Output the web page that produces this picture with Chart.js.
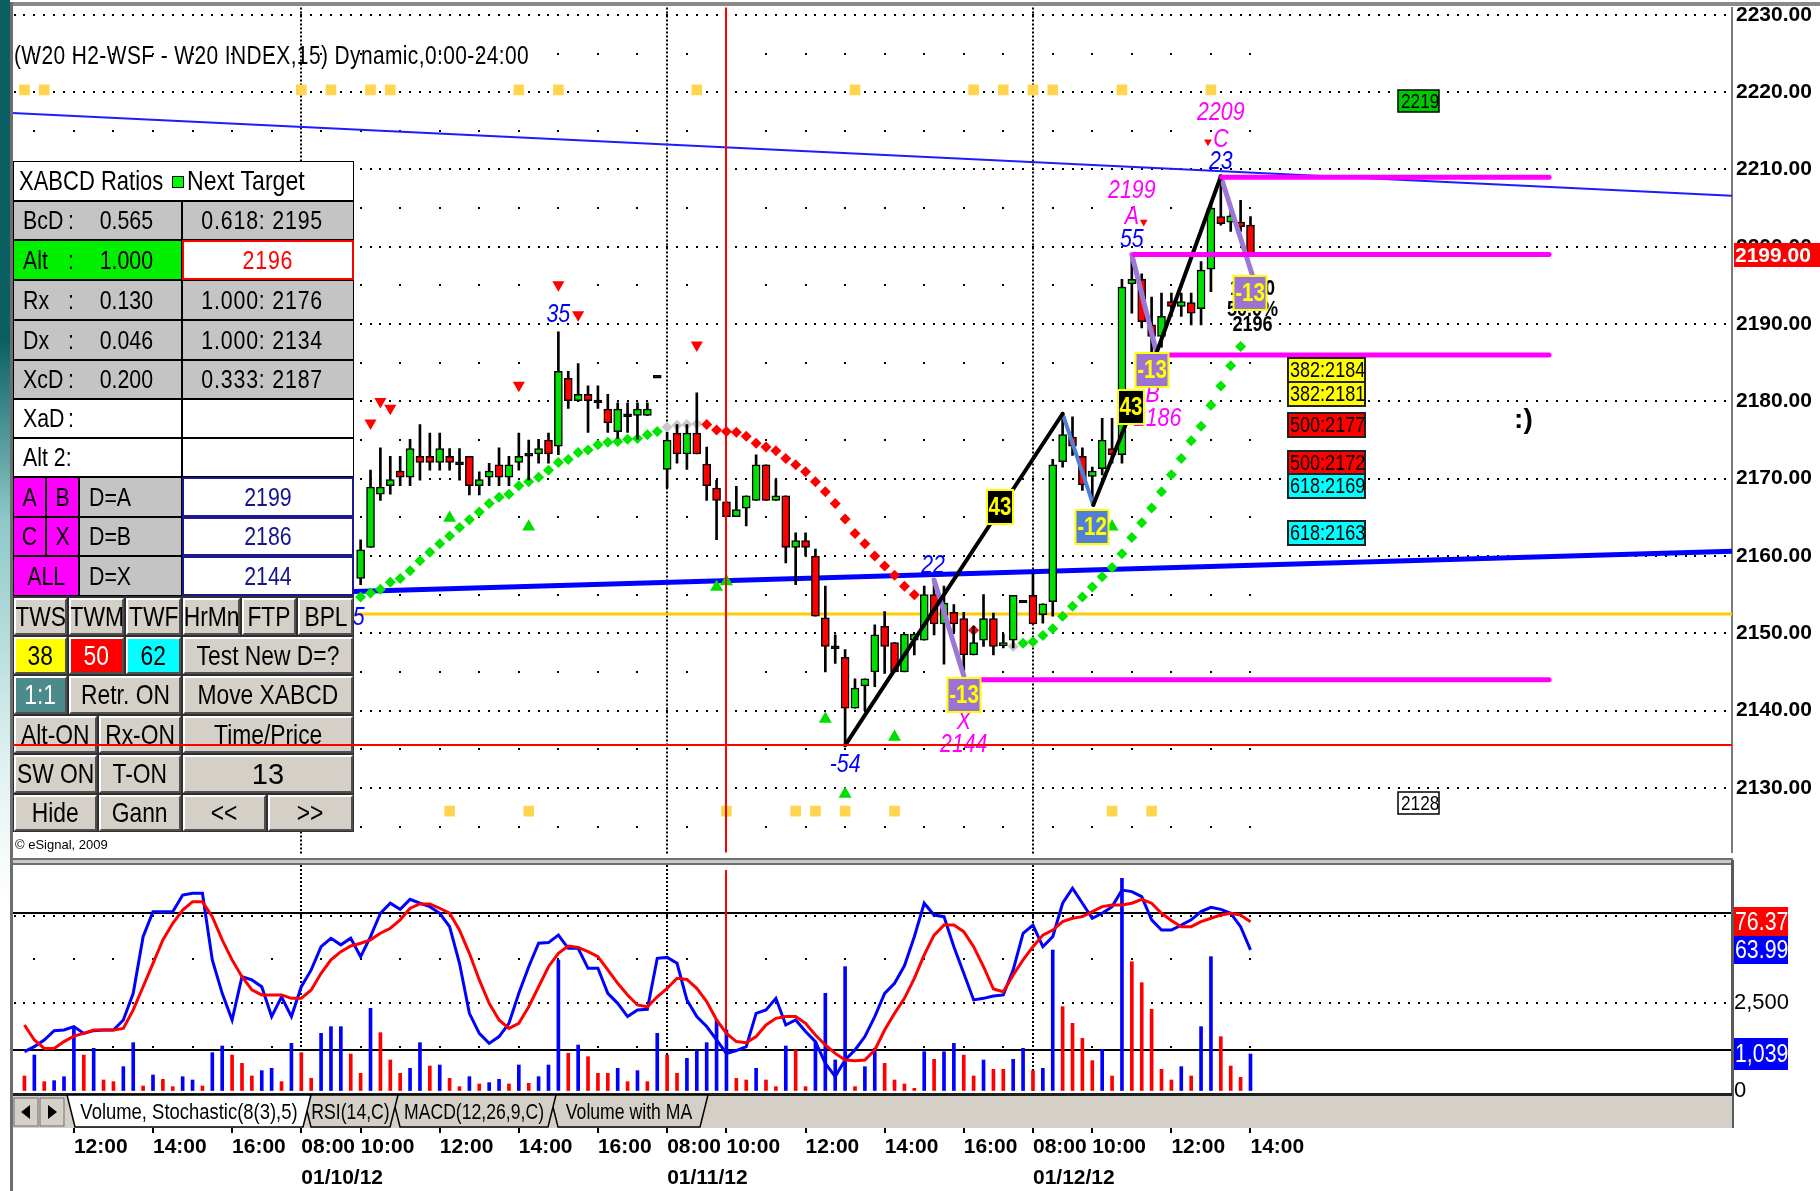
<!DOCTYPE html>
<html>
<head>
<meta charset="utf-8">
<title>W20 H2-WSF 15 min</title>
<script src="https://cdn.jsdelivr.net/npm/chart.js@4.4.1/dist/chart.umd.min.js"></script>
<style>
  html, body { margin: 0; padding: 0; background: #fff; }
  #wrap { position: relative; width: 1820px; height: 1191px; overflow: hidden; background: #fff; }
  canvas { position: absolute; left: 0; }
  #main { top: 0; }
  #lower { top: 860px; }
  .abs { position: absolute; box-sizing: border-box; }
  .nar { font-family: "Liberation Sans", Arial, sans-serif; }
  .cell { position: absolute; box-sizing: border-box; display: flex; justify-content: center; align-items: center;
          font-size: 26px; color: #000; white-space: nowrap; overflow: hidden; border: 1px solid #000; }
  .cell span { position: absolute; top: 0; transform: scaleX(0.82); transform-origin: left center; }
  .cell span.r { transform-origin: right center; }
  .n { display: inline-block; flex: none; font-style: normal; transform: scaleX(0.82); transform-origin: center; }
  .wide .n { letter-spacing: 1px; }
  .btn { background: #d4d0c8; border: 2px solid; border-color: #fff #505050 #505050 #fff; font-size: 27.5px; }
  .btn .n { transform: scaleX(0.83); }
</style>
</head>
<body>
<div id="wrap">
  <canvas id="main" width="1820" height="860"></canvas>
  <canvas id="lower" width="1820" height="331"></canvas>
  <div id="panel" class="abs" style="left:0;top:0;width:1820px;height:1191px;pointer-events:none"></div>
</div>
<script>
const SANS = '"Liberation Sans", Arial, sans-serif';
const NARROW_X = 0.82; // Liberation Sans squeezed to Arial Narrow proportions

// ---------- data (bar index: 0 = 08:30 on 01/09/12, 37 bars per session) ----------
const firstBar = 43;
const opens = [
  2157.1,2161.1,2168.0,2169.1,2171.0,2170.2,2172.9,2172.9,2172.1,2172.9,
  2172.0,2172.9,2169.1,2170.2,2171.8,2170.2,2172.1,2173.1,2173.2,2175.0,
  2174.2,2183.0,2180.1,2180.9,2180.0,2179.0,2176.1,2178.2,2178.2,2178.2,
  2183.2,2171.2,2175.9,2173.2,2175.9,2171.9,2168.8,2167.0,2165.1,2166.2,
  2167.2,2171.8,2167.2,2167.8,2161.1,2162.0,2160.0,2152.0,2148.2,2146.9,
  2140.3,2143.2,2145.0,2150.9,2148.8,2145.0,2149.1,2149.1,2155.0,2151.2,
  2152.7,2151.9,2147.2,2149.1,2151.9,2148.4,2149.1,2154.1,2154.9,2152.4,
  2154.1,2172.2,2175.4,2172.9,2170.3,2171.3,2173.9,2173.1,2195.2,2195.8,
  2189.9,2188.4,2192.9,2192.3,2192.8,2192.0,2197.1,2203.9,2203.2,2203.2,
  2202.8
];
const highs = [
  2162.1,2171.1,2174.0,2172.9,2172.9,2175.1,2177.0,2175.9,2175.9,2173.9,
  2173.9,2172.9,2170.9,2172.0,2174.0,2172.9,2175.9,2175.0,2175.1,2175.9,
  2189.0,2183.9,2184.9,2182.0,2182.0,2180.9,2179.8,2179.8,2179.8,2179.8,
  2183.2,2176.0,2177.0,2177.0,2181.1,2174.1,2169.8,2167.0,2169.0,2167.8,
  2173.1,2171.8,2169.9,2167.8,2163.0,2163.0,2160.9,2156.1,2149.8,2147.9,
  2144.1,2144.1,2151.1,2152.8,2148.8,2149.9,2149.9,2156.1,2156.9,2156.1,
  2153.7,2152.7,2150.9,2155.0,2152.6,2149.9,2154.9,2154.1,2157.8,2153.8,
  2172.5,2178.4,2178.0,2174.0,2171.5,2177.8,2177.8,2195.8,2199.0,2196.5,
  2193.5,2194.0,2194.0,2194.0,2194.0,2198.1,2205.5,2209.1,2205.5,2206.0,
  2203.9
];
const lows = [
  2156.3,2161.1,2167.2,2168.0,2169.1,2169.1,2169.8,2171.1,2171.1,2171.1,
  2169.8,2167.9,2167.9,2169.1,2169.1,2169.1,2171.1,2169.8,2172.0,2172.0,
  2173.1,2179.1,2180.0,2176.0,2179.1,2176.0,2175.2,2176.0,2175.1,2178.2,
  2183.2,2168.8,2172.0,2171.2,2173.2,2167.2,2162.1,2165.1,2165.1,2163.9,
  2167.2,2167.2,2167.2,2159.1,2156.3,2160.0,2152.2,2145.0,2146.1,2135.5,
  2140.3,2140.0,2143.1,2144.8,2145.0,2145.0,2147.2,2149.1,2149.8,2146.0,
  2150.2,2144.0,2147.2,2148.3,2147.2,2148.1,2148.1,2154.1,2151.2,2151.3,
  2152.2,2171.5,2173.0,2168.5,2166.6,2170.5,2172.0,2172.0,2191.4,2189.5,
  2186.3,2187.0,2191.0,2191.0,2189.9,2189.9,2194.2,2202.8,2202.0,2202.0,
  2199.0
];
const closes = [
  2160.8,2168.9,2168.9,2169.9,2170.2,2173.9,2172.1,2172.1,2173.9,2172.1,
  2172.0,2169.1,2169.9,2171.0,2170.2,2171.8,2172.9,2173.1,2173.9,2173.2,
  2183.9,2180.1,2180.9,2180.1,2180.0,2177.2,2179.0,2178.2,2179.0,2179.0,
  2183.2,2175.0,2173.2,2175.9,2173.2,2169.1,2167.2,2165.1,2166.0,2167.8,
  2171.8,2167.2,2167.8,2161.1,2162.0,2161.1,2152.2,2148.3,2148.2,2140.3,
  2142.9,2144.1,2149.8,2148.3,2145.0,2149.9,2149.9,2155.0,2151.2,2153.9,
  2151.2,2147.2,2148.8,2151.9,2148.3,2148.8,2154.9,2154.1,2151.2,2153.8,
  2171.8,2175.7,2174.2,2169.2,2171.0,2175.0,2173.1,2194.8,2195.8,2190.3,
  2188.4,2191.0,2192.3,2192.9,2191.4,2197.0,2205.0,2203.0,2204.0,2202.6,
  2199.0
];

// stop-and-reverse dots, bars 43..132 (null = hidden under candles)
const sarFirst = 43;
const sarVals = [
  2154.7,2155.2,2155.7,2156.6,2157.1,2158.1,2159.4,2160.5,2161.6,2162.6,
  2163.7,2164.7,2165.7,2166.8,2167.6,2168.0,2169.1,2169.6,2170.2,2171.1,
  2172.1,2172.5,2173.4,2173.7,2174.4,2174.7,2174.8,2175.1,2175.2,2175.7,
  2176.1,2176.7,2176.9,2177.0,2177.1,2177.0,2176.3,2176.1,2176.0,2175.5,
  2174.6,2174.1,2173.6,2172.6,2171.8,2170.9,2169.6,2168.3,2166.8,2164.8,
  2162.9,2161.6,2160.0,2158.7,2157.5,2156.1,2155.0,null,null,null,
  null,null,2150.4,null,null,null,2148.3,2148.7,2148.9,2149.7,
  2150.6,2152.2,2153.5,2154.7,2156.0,2157.3,2158.5,2160.3,2162.4,2164.3,
  2166.2,2168.3,2170.5,2172.6,2174.9,2176.8,2179.5,2182.0,2184.6,2187.1
];
const sarSide =
  'gggggggggg' + 'gggggggggg' + 'gggggggggg' + 'g' +
  'ssss' +
  'rrrrrrrrrr' + 'rrrrrrrrrr' + 'rrrrrrrrrr' + 'r' +
  's' +
  'gggggggggg' + 'gggggggggg' + 'ggg';

// lower panel, bars 9..133
const volFirst = 9;
const volumes = [
  415,1014,253,281,395,1824,1014,1205,300,253,
  681,1367,129,443,319,110,395,300,129,1081,
  1272,1014,776,415,567,634,253,1348,1081,348,
  1634,1824,1824,1043,491,2348,1653,872,491,634,
  1367,700,729,348,110,395,186,224,319,186,
  729,205,395,729,3729,1062,1300,967,491,491,
  634,253,567,253,1634,1014,491,919,1157,1367,
  2015,1729,348,300,634,300,110,1272,1157,110,
  1395,2776,872,3538,110,681,1205,776,300,186,
  62,1110,891,1110,1348,1014,415,872,605,605,
  891,1205,567,634,4015,2395,1919,1491,853,1176,
  415,6062,3681,3081,2319,605,300,681,415,1824,
  3824,1538,700,376,1043
];
const volDir =
  'rbrbbbrbrr' + 'bbrbrrbbrb' + 'brrrbbrbrr' + 'bbbrrbrrrb' + 'brbrrbrbbr' +
  'brbbbrbrrr' + 'brbrbrrbbb' + 'bbrrbrrbrr' + 'bbbbrbbrrr' + 'rbrbbrrbrr' +
  'bbrbbrrrrb' + 'rbrrrrrbrb' + 'brrrb';
const stochK = [
  19.3,21.5,24.4,28.5,28.8,30.3,27.3,28.5,28.8,28.8,
  33.2,44.9,69.8,80.8,80.8,80.8,88.1,88.9,88.9,59.6,
  44.9,33.2,52.2,50.8,47.8,34.7,43.4,34.7,47.8,55.2,
  65.4,69.1,66.2,69.1,61.0,69.8,80.1,84.5,81.8,86.2,
  84.5,83.0,80.1,74.2,58.1,36.1,27.3,22.9,25.9,31.7,
  44.9,56.6,66.9,67.2,70.5,64.7,64.7,55.9,55.9,44.9,
  40.5,34.7,37.6,37.9,60.3,60.7,58.1,42.0,34.7,30.3,
  24.4,18.5,19.7,21.5,36.1,37.6,42.7,31.0,33.2,28.1,
  23.7,14.1,8.3,15.6,20.0,25.9,34.7,44.9,49.3,57.0,
  69.8,84.5,79.3,78.6,65.4,53.7,42.0,42.7,43.7,44.2,
  55.2,71.3,74.9,65.4,69.8,84.5,91.1,84.5,77.9,80.1,
  83.0,90.3,89.6,87.4,77.2,72.7,72.7,74.9,77.2,80.8,
  82.7,81.8,80.1,74.2,64.0
];
const stochD = [
  31.0,24.4,20.7,20.7,23.7,26.1,27.3,28.8,28.8,28.8,
  29.5,37.6,47.8,58.1,68.4,75.7,81.5,85.2,85.2,78.6,
  68.4,59.6,52.2,46.4,44.2,44.2,44.2,42.7,42.7,46.4,
  53.7,59.6,63.2,65.7,66.9,68.4,71.3,73.5,77.2,82.3,
  84.2,84.2,82.3,80.1,72.7,62.5,50.8,40.5,33.2,29.5,
  31.7,39.0,47.8,56.6,62.5,65.7,65.1,63.2,61.0,55.2,
  49.3,44.2,39.8,39.0,43.4,47.1,51.5,51.0,47.1,41.3,
  33.2,27.3,23.7,23.2,25.9,31.0,33.9,34.7,34.7,31.7,
  26.6,22.2,18.5,15.6,15.3,15.6,20.0,28.8,36.1,42.7,
  51.5,61.8,70.5,74.9,74.9,72.0,65.4,56.6,46.8,45.6,
  53.0,59.6,65.4,70.5,72.7,76.4,77.9,78.6,80.8,83.0,
  83.7,83.7,84.5,86.2,84.5,80.1,76.9,74.2,74.2,76.4,
  77.9,79.3,80.1,79.3,76.4
];
const lastK = 63.99, lastD = 76.37, lastVol = 1039;

// axes
const priceTicks = [2130, 2140, 2150, 2160, 2170, 2180, 2190, 2200, 2210, 2220, 2230];
const timeTicks = [14, 22, 30, 37, 43, 51, 59, 67, 74, 80, 88, 96, 104, 111, 117, 125, 133];
const timeLabels = ['12:00','14:00','16:00','08:00','10:00','12:00','14:00','16:00',
                    '08:00','10:00','12:00','14:00','16:00','08:00','10:00','12:00','14:00'];
const dateLabels = {37: '01/10/12', 74: '01/11/12', 111: '01/12/12'};
const sessionStarts = [0, 37, 74, 111];
const lastBar = 133;
const currentPrice = 2199;

// markers
const topMarks = [9, 11, 37, 40, 44, 46, 59, 63, 77, 93, 105, 108, 111, 113, 120, 129];
const topMarkLevel = 2220.3;
const bottomMarks = [52, 60, 80, 87, 89, 92, 97, 119, 123];
const bottomMarkLevel = 2127.0;
const buyBars = [52, 60, 79, 80, 90, 92, 97, 119];
const buyLevels = [2164.9, 2163.8, 2156.0, 2156.7, 2138.9, 2129.2, 2136.6, 2163.8];
const sellBars = [44, 45, 46, 59, 63, 65, 77];
const sellLevels = [2177.2, 2180.0, 2179.1, 2182.1, 2195.1, 2191.2, 2187.3];
const pivotSellBars = [122.2, 128.7];
const pivotSellLevels = [2203.2, 2213.6];

// lines: [bar, price] end points
const blueThin = [[7.74, 2217.3], [181.7, 2206.6]];
const blueThick = [[7.74, 2154.1], [181.7, 2160.6]];
const yellowLevel = 2152.5;
const lowLevel = 2135.5;
const blackLegs = [[[92, 2135.5], [114, 2178.4]], [[117.1, 2166.6], [121, 2179.0]], [[123.5, 2186.3], [130, 2209.1]]];
const blueLegs = [[[114, 2178.4], [117.1, 2166.6]]];
const purpleLegs = [[[101, 2156.9], [104, 2144.5]], [[121, 2199.0], [123.5, 2186.3]], [[130, 2209.1], [133.2, 2196.3]]];
const targetLines = [[130.1, 2209], [121.2, 2199], [124.5, 2186], [105.5, 2144]];
const targetEnd = 163.2;

// annotations
const swingNums = [[63, 2191.2, '35'], [42.8, 2152.0, '5'], [100.9, 2158.7, '22'], [92, 2133.0, '-54'], [121, 2200.9, '55'], [130, 2211.0, '23']];
const pointNames = [[130, 2217.3, '2209'], [130, 2213.8, 'C'], [121, 2207.3, '2199'], [121, 2203.9, 'A'],
                    [123.1, 2180.8, 'B'], [123.6, 2177.8, '2186'], [104, 2138.6, 'X'], [104, 2135.6, '2144']];
const dInfo = [[133.2, 2194.6, '1.000'], [133.2, 2191.8, '50.0%'], [133.2, 2189.9, '2196']];
const barCounts = [[104, 2142.0, '-13', 'p'], [123, 2184.0, '-13', 'p'], [133, 2194.0, '-13', 'p'],
                   [117, 2163.8, '-12', 'b'], [107.7, 2166.3, '43', 'k'], [120.9, 2179.3, '43', 'k']];
const fibBar = 136.8;
const fibTargets = [[2184, '382:2184', 'y'], [2181, '382:2181', 'y'], [2177, '500:2177', 'r'],
                    [2172, '500:2172', 'r'], [2169, '618:2169', 'c'], [2163, '618:2163', 'c']];
const levelBar = 147.9;
const levelTags = [[2218.8, '2219', 'g'], [2128.0, '2128', 'w']];
const smile = [160.6, 2177.6, ':)'];

// ---------- helpers ----------
const X_MIN = 7.74, X_MAX = 181.7;
const seg = (a) => a.map(([g, p]) => ({x: g, y: p}));
const lineDs = (pts, color, width, order) => ({
  type: 'line', data: seg(pts), borderColor: color, borderWidth: width,
  pointRadius: 0, tension: 0, order: order, borderCapStyle: 'round'
});
const boxFill = {p: '#9b74d3', b: '#4f7fd6', k: '#000000', y: '#ffff00', r: '#ff0000', c: '#00ffff', g: '#00c800', w: '#ffffff'};
const noPad = (s) => { s.paddingTop = 0; s.paddingBottom = 0; s.paddingLeft = 0; s.paddingRight = 0; };

function narrowText(ctx, t, x, y, align) {
  ctx.save();
  ctx.translate(x, y);
  ctx.scale(NARROW_X, 1);
  ctx.textAlign = align || 'center';
  ctx.fillText(t, 0, 0);
  ctx.restore();
}

const barIdx = opens.map((_, i) => firstBar + i);
const wickData = barIdx.map((g, i) => ({x: g, y: [lows[i], highs[i]]}));
const bodyData = barIdx.map((g, i) => {
  const o = opens[i], c = closes[i];
  if (Math.abs(o - c) < 0.2) return {x: g, y: [c - 0.18, c + 0.18]};
  return {x: g, y: [Math.min(o, c), Math.max(o, c)]};
});
const bodyColors = barIdx.map((g, i) => {
  const o = opens[i], c = closes[i];
  if (Math.abs(o - c) < 0.2) return '#000000';
  return c > o ? '#00e000' : '#ff0000';
});
const sarData = sarVals.map((v, i) => ({x: sarFirst + i, y: v}));
const sarColors = sarSide.split('').map(s => s === 'g' ? '#00e600' : s === 'r' ? '#ff0000' : '#c8c8c8');

function hourBars() {
  const out = [];
  for (const s of sessionStarts) for (let k = 2; k <= 34; k += 4) {
    const g = s + k;
    if (g >= X_MIN && g <= lastBar) out.push(g);
  }
  return out;
}
const HOURS = hourBars();
const DAY_LINES = sessionStarts.slice(1);

// ---------- main chart ----------
const mainDecor = {
  id: 'mainDecor',
  beforeDatasetsDraw(chart) {
    const {ctx, chartArea: a, scales: {x, y}} = chart;
    ctx.save();
    ctx.fillStyle = '#000';
    for (const lv of priceTicks) {
      const yy = Math.round(y.getPixelForValue(lv)) - 1;
      if (yy < a.top || yy > a.bottom) continue;
      for (let g = Math.ceil(X_MIN); g <= X_MAX; g++) ctx.fillRect(Math.round(x.getPixelForValue(g)) - 1, yy, 2, 2);
    }
    for (const g of HOURS) {
      const xx = Math.round(x.getPixelForValue(g)) - 1;
      for (let lv = 2125; lv <= 2230; lv += 10) ctx.fillRect(xx, Math.round(y.getPixelForValue(lv)) - 1, 2, 2);
    }
    for (const g of DAY_LINES) {
      const xx = Math.round(x.getPixelForValue(g)) - 1;
      for (let yy = a.top; yy < a.bottom; yy += 4) ctx.fillRect(xx, yy, 2, 2);
    }
    ctx.restore();
  },
  afterDatasetsDraw(chart) {
    const {ctx, chartArea: a, scales: {x, y}} = chart;
    const X = (g) => x.getPixelForValue(g), Y = (p) => y.getPixelForValue(p);
    ctx.save();
    // 10:00 marker line on 01/11
    ctx.fillStyle = '#ff0000';
    ctx.fillRect(Math.round(X(80)) - 1, a.top, 2, a.bottom - a.top);
    ctx.textBaseline = 'middle';
    ctx.font = 'italic 26px ' + SANS;
    ctx.fillStyle = '#0000ff';
    for (const [g, p, t] of swingNums) narrowText(ctx, t, X(g), Y(p));
    ctx.fillStyle = '#ff00ff';
    for (const [g, p, t] of pointNames) narrowText(ctx, t, X(g), Y(p));
    ctx.font = 'bold 22px ' + SANS;
    ctx.fillStyle = '#000';
    for (const [g, p, t] of dInfo) narrowText(ctx, t, X(g), Y(p));
    ctx.font = 'bold 25px ' + SANS;
    for (const [g, p, t, k] of barCounts) {
      const w = k === 'k' ? 26 : 33, h = 34;
      const cx = Math.round(X(g)), cy = Math.round(Y(p));
      ctx.fillStyle = boxFill[k];
      ctx.fillRect(cx - w / 2, cy - h / 2, w, h);
      ctx.strokeStyle = '#ffff00';
      ctx.lineWidth = 2;
      ctx.strokeRect(cx - w / 2, cy - h / 2, w, h);
      ctx.fillStyle = '#ffff00';
      narrowText(ctx, t, cx, cy + 1);
    }
    ctx.font = '22px ' + SANS;
    for (const [p, t, k] of fibTargets) {
      const lx = Math.round(X(fibBar)), cy = Math.round(Y(p));
      ctx.fillStyle = boxFill[k];
      ctx.fillRect(lx, cy - 12, 77, 24);
      ctx.strokeStyle = '#222';
      ctx.lineWidth = 2;
      ctx.strokeRect(lx, cy - 12, 77, 24);
      ctx.fillStyle = '#000';
      narrowText(ctx, t, lx + 2, cy + 1, 'left');
    }
    ctx.font = '21px ' + SANS;
    for (const [p, t, k] of levelTags) {
      const lx = Math.round(X(levelBar)), cy = Math.round(Y(p));
      ctx.fillStyle = boxFill[k];
      ctx.fillRect(lx, cy - 11, 41, 22);
      ctx.strokeStyle = '#000';
      ctx.lineWidth = 1.5;
      ctx.strokeRect(lx, cy - 11, 41, 22);
      ctx.fillStyle = '#000';
      narrowText(ctx, t, lx + 3, cy + 1, 'left');
    }
    ctx.font = 'bold 28px ' + SANS;
    ctx.textAlign = 'center';
    ctx.fillText(smile[2], X(smile[0]), Y(smile[1]));
    ctx.restore();
  },
  afterDraw(chart) {
    const {ctx, chartArea: a, scales: {y}} = chart;
    const cy = Math.round(y.getPixelForValue(currentPrice));
    ctx.save();
    ctx.fillStyle = '#ff0000';
    ctx.fillRect(a.right + 2, cy - 12, 86, 24);
    ctx.fillStyle = '#fff';
    ctx.font = 'bold 21px ' + SANS;
    ctx.textBaseline = 'middle';
    ctx.fillText(currentPrice.toFixed(2), a.right + 3, cy + 1);
    ctx.restore();
  }
};

const mainDatasets = [
  lineDs([[X_MIN, yellowLevel], [X_MAX, yellowLevel]], '#ffcc00', 3, 40),
  lineDs(blueThin, '#1c1cff', 2, 39),
  lineDs(blueThick, '#0000ff', 5, 38),
  {type: 'line', data: sarData, showLine: false, pointStyle: 'rectRot', pointRadius: 5.5,
   pointBackgroundColor: sarColors, pointBorderWidth: 0, order: 37},
  {type: 'bar', data: wickData, backgroundColor: '#000', barThickness: 2, grouped: false, order: 36},
  {type: 'bar', data: bodyData, backgroundColor: bodyColors, borderColor: '#000', borderWidth: 1.5,
   borderSkipped: false, barThickness: 8, grouped: false, order: 35},
  {type: 'line', data: topMarks.map(g => ({x: g, y: topMarkLevel})).concat(bottomMarks.map(g => ({x: g, y: bottomMarkLevel}))),
   showLine: false, pointStyle: 'rect', pointRadius: 7.5, pointBackgroundColor: '#ffd54f', pointBorderWidth: 0, order: 34},
  {type: 'line', data: buyBars.map((g, i) => ({x: g, y: buyLevels[i]})), showLine: false, pointStyle: 'triangle',
   pointRadius: 7.5, pointBackgroundColor: '#00dd00', pointBorderWidth: 0, order: 33},
  {type: 'line', data: sellBars.map((g, i) => ({x: g, y: sellLevels[i]})), showLine: false, pointStyle: 'triangle',
   pointRotation: 180, pointRadius: 7, pointBackgroundColor: '#ff0000', pointBorderWidth: 0, order: 33},
  {type: 'line', data: pivotSellBars.map((g, i) => ({x: g, y: pivotSellLevels[i]})), showLine: false, pointStyle: 'triangle',
   pointRotation: 180, pointRadius: 4.5, pointBackgroundColor: '#ff0000', pointBorderWidth: 0, order: 33}
];
purpleLegs.forEach(l => mainDatasets.push(lineDs(l, '#9c78d6', 5, 30)));
blueLegs.forEach(l => mainDatasets.push(lineDs(l, '#4f7fd6', 4, 29)));
blackLegs.forEach(l => mainDatasets.push(lineDs(l, '#000000', 4, 28)));
targetLines.forEach(([g, p]) => mainDatasets.push(lineDs([[g, p], [targetEnd, p]], '#ff00ff', 5, 20)));

const mainChart = new Chart(document.getElementById('main'), {
  type: 'bar',
  data: {datasets: mainDatasets},
  options: {
    responsive: false,
    animation: false,
    events: [],
    layout: {padding: {left: 12, right: 0, top: 6, bottom: 1}},
    plugins: {legend: {display: false}, tooltip: {enabled: false}},
    scales: {
      x: {type: 'linear', display: false, min: X_MIN, max: X_MAX, offset: false},
      y: {
        type: 'linear', position: 'right', min: 2120.8, max: 2231.15,
        afterFit: (s) => { s.width = 88; noPad(s); },
        afterBuildTicks: (s) => { s.ticks = priceTicks.map(v => ({value: v})); },
        grid: {display: false, drawTicks: false},
        border: {display: true, color: '#7a7a7a', width: 2},
        ticks: {padding: 4, color: '#000', font: {family: SANS, size: 21, weight: 'bold'},
                callback: (v) => v.toFixed(2)}
      }
    }
  },
  plugins: [mainDecor]
});
// pin the price scale: 2160 on pixel row 556, 7.73 px per point, whatever room the layout left
(function pinPriceScale() {
  const a = mainChart.chartArea, o = mainChart.options.scales.y;
  o.max = 2160 + (556 - a.top) / 7.73;
  o.min = 2160 - (a.bottom - 556) / 7.73;
  mainChart.update();
})();

// ---------- lower chart ----------
const lowerDecor = {
  id: 'lowerDecor',
  beforeDatasetsDraw(chart) {
    const {ctx, chartArea: a, scales: {x, vol, stoch}} = chart;
    ctx.save();
    ctx.fillStyle = '#000';
    for (const v of [20, 80]) ctx.fillRect(a.left, Math.round(stoch.getPixelForValue(v)) - 1, a.right - a.left, 2);
    for (const v of [2500, 5000]) {
      const yy = Math.round(vol.getPixelForValue(v)) - 1;
      for (let g = Math.ceil(X_MIN); g <= X_MAX; g++) ctx.fillRect(Math.round(x.getPixelForValue(g)) - 1, yy, 2, 2);
    }
    for (const g of HOURS) {
      const xx = Math.round(x.getPixelForValue(g)) - 1;
      for (const v of [1250, 3750]) ctx.fillRect(xx, Math.round(vol.getPixelForValue(v)) - 1, 2, 2);
    }
    for (const g of DAY_LINES) {
      const xx = Math.round(x.getPixelForValue(g)) - 1;
      for (let yy = a.top; yy < a.bottom; yy += 4) ctx.fillRect(xx, yy, 2, 2);
    }
    ctx.fillStyle = '#ff0000';
    ctx.fillRect(Math.round(x.getPixelForValue(80)) - 1, a.top + 5, 2, a.bottom - a.top - 5);
    ctx.restore();
  },
  afterDraw(chart) {
    const {ctx, chartArea: a, scales: {x, vol, stoch}} = chart;
    ctx.save();
    ctx.fillStyle = '#000';
    for (const g of timeTicks) ctx.fillRect(Math.round(x.getPixelForValue(g)) - 1, 268, 2, 5);
    ctx.font = '26px ' + SANS;
    ctx.textBaseline = 'middle';
    const tag = (cy, h, bg, t) => {
      ctx.fillStyle = bg;
      ctx.fillRect(a.right + 2, cy - h / 2, 54, h);
      ctx.fillStyle = '#fff';
      narrowText(ctx, t, a.right + 3, cy + 1, 'left');
    };
    tag(Math.round(stoch.getPixelForValue(lastD)), 30, '#ff0000', lastD.toFixed(2));
    tag(Math.round(stoch.getPixelForValue(lastK)), 28, '#0000ff', lastK.toFixed(2));
    tag(Math.round(vol.getPixelForValue(lastVol)), 32, '#0000ff', lastVol.toLocaleString('en-US'));
    ctx.restore();
  }
};

new Chart(document.getElementById('lower'), {
  type: 'bar',
  data: {
    datasets: [
      {type: 'bar', yAxisID: 'vol', data: volumes.map((v, i) => ({x: volFirst + i, y: v})),
       backgroundColor: volDir.split('').map(c => c === 'b' ? '#0000ff' : '#ff0000'),
       barThickness: 3, grouped: false, order: 3},
      {type: 'line', yAxisID: 'stoch', data: stochK.map((v, i) => ({x: volFirst + i, y: v})),
       borderColor: '#0000ff', borderWidth: 3, pointRadius: 0, tension: 0, order: 2},
      {type: 'line', yAxisID: 'stoch', data: stochD.map((v, i) => ({x: volFirst + i, y: v})),
       borderColor: '#ff0000', borderWidth: 3, pointRadius: 0, tension: 0, order: 1}
    ]
  },
  options: {
    responsive: false,
    animation: false,
    events: [],
    layout: {padding: {left: 12, right: 0, top: 5, bottom: 0}},
    plugins: {legend: {display: false}, tooltip: {enabled: false}},
    scales: {
      x: {
        type: 'linear', position: 'bottom', min: X_MIN, max: X_MAX, offset: false,
        afterFit: (s) => { s.height = 100; noPad(s); },
        afterBuildTicks: (s) => { s.ticks = timeTicks.map(v => ({value: v})); },
        grid: {display: false, drawTicks: false},
        border: {display: false},
        ticks: {
          autoSkip: false, maxRotation: 0, minRotation: 0, align: 'start', padding: 40, color: '#000',
          font: {family: SANS, size: 21, weight: 'bold', lineHeight: 1.5},
          callback: (v) => {
            const i = timeTicks.indexOf(v);
            return dateLabels[v] ? [timeLabels[i], dateLabels[v]] : timeLabels[i];
          }
        }
      },
      vol: {
        type: 'linear', position: 'right', min: -14, max: 6443,
        afterFit: (s) => { s.width = 88; noPad(s); },
        afterBuildTicks: (s) => { s.ticks = [0, 2500, 5000].map(v => ({value: v})); },
        grid: {display: false, drawTicks: false},
        border: {display: true, color: '#7a7a7a', width: 2},
        ticks: {padding: 2, color: '#000', font: {family: SANS, size: 22},
                callback: (v) => v.toLocaleString('en-US')}
      },
      stoch: {type: 'linear', display: false, min: 1.98, max: 101.3}
    }
  },
  plugins: [lowerDecor]
});

// ---------- html overlays: frame, title, XABCD panel, tabs ----------
const panel = document.getElementById('panel');
const n = (t) => '<i class="n">' + t + '</i>';
function box(x1, y1, x2, y2, html, css, cls) {
  const d = document.createElement('div');
  d.className = cls === undefined ? 'cell nar' : cls;
  Object.assign(d.style, {left: x1 + 'px', top: y1 + 'px', width: (x2 - x1) + 'px', height: (y2 - y1) + 'px',
                          lineHeight: (y2 - y1 - 2) + 'px'}, css || {});
  d.innerHTML = html;
  panel.appendChild(d);
  return d;
}
// teal edge and frame
box(0, 0, 10, 1191, '', {background: 'linear-gradient(#0b5f63 0, #0b5f63 340px, #8fc9c9 520px, #dff0f0 760px, #ffffff 900px)', border: 'none'}, 'abs');
box(10, 2, 1820, 6, '', {background: '#8a8a8a'}, 'abs');
box(10, 2, 13, 1191, '', {background: '#6d6d6d'}, 'abs');
box(13, 858, 1733, 865, '', {background: '#c8c8c8', borderTop: '2px solid #707070', borderBottom: '2px solid #707070'}, 'abs');
box(1731, 860, 1734, 1128, '', {background: '#5a5a5a'}, 'abs');

box(14, 41, 700, 71, '<i class="n" style="transform-origin:left center;letter-spacing:0.5px">(W20 H2-WSF - W20 INDEX,15) Dynamic,0:00-24:00</i>',
    {fontSize: '25.5px', color: '#000', whiteSpace: 'nowrap'}, 'abs nar');
box(15, 836, 200, 854, '&copy; eSignal, 2009', {fontSize: '13px', fontFamily: SANS, color: '#000', lineHeight: '18px'}, 'abs');

// XABCD ratio table
const ratioRows = [['BcD', '0.565', '0.618: 2195'], ['Alt', '1.000', '2196'], ['Rx', '0.130', '1.000: 2176'],
                   ['Dx', '0.046', '1.000: 2134'], ['XcD', '0.200', '0.333: 2187'], ['XaD', '', ''], ['Alt 2', '', '']];
const projRows = [[['A', 'B'], 'D=A', '2199'], [['C', 'X'], 'D=B', '2186'], [['ALL'], 'D=X', '2144']];
const rowY = [161, 201, 240, 280, 320, 360, 399, 438, 477, 517, 556, 596];
const L = 13, M = 182, R = 354;
box(L, rowY[0], R, 832, '', {background: '#303030'}, 'abs');
box(L, rowY[0], R, rowY[1], '<span style="left:5px;transform:scaleX(0.8)">XABCD Ratios</span>' +
    '<span style="left:158px;top:14px;width:12px;height:12px;background:#00ff00;border:1px solid #000;box-sizing:border-box;transform:none"></span>' +
    '<span style="left:173px;transform:scaleX(0.84)">Next Target</span>', {background: '#fff', fontSize: '27.5px'});
ratioRows.forEach(([name, val, target], i) => {
  const y1 = rowY[i + 1], y2 = rowY[i + 2];
  const white = i >= 5, alt = i === 1;
  const left = name === 'Alt 2' ? '<span style="left:9px">Alt 2:</span>'
    : '<span style="left:9px">' + name + '</span><span style="left:54px">:</span><span class="r" style="right:28px">' + val + '</span>';
  box(L, y1, M, y2, left, {background: alt ? '#00f000' : white ? '#fff' : '#c4c4c4'});
  const css = alt ? {background: '#fff', border: '2px solid #ff0000', color: '#ff0000'} : {background: white ? '#fff' : '#c4c4c4'};
  if (target.indexOf(':') > 0) css.paddingRight = '12px';
  box(M, y1, R, y2, n(target), css).classList.add('wide');
});
projRows.forEach(([keys, rule, level], i) => {
  const y1 = rowY[i + 8], y2 = rowY[i + 9];
  if (keys.length === 2) {
    box(L, y1, 46, y2, n(keys[0]), {background: '#ff00ff'});
    box(46, y1, 79, y2, n(keys[1]), {background: '#ff00ff'});
  } else {
    box(L, y1, 79, y2, n(keys[0]), {background: '#ff00ff'});
  }
  box(79, y1, M, y2, '<span style="left:9px">' + rule + '</span>', {background: '#c4c4c4'});
  box(M, y1, R, y2, n(level), {background: '#fff', border: '2px solid #1a1a8c', color: '#14148c'});
});
// buttons
const btnRows = [
  [597, 636, [[13, 68, 'TWS'], [68, 125, 'TWM'], [125, 182, 'TWF'], [182, 241, 'HrMn'], [241, 297, 'FTP'], [297, 354, 'BPL']]],
  [636, 675, [[13, 68, '38', '#ffff00'], [68, 125, '50', '#ff0000', '#fff'], [125, 182, '62', '#00ffff'], [182, 354, 'Test New D=?']]],
  [675, 715, [[13, 68, '1:1', '#4b8b8b', '#fff'], [68, 182, 'Retr. ON'], [182, 354, 'Move XABCD']]],
  [715, 754, [[13, 98, 'Alt-ON'], [98, 182, 'Rx-ON'], [182, 354, 'Time/Price']]],
  [754, 794, [[13, 98, 'SW ON'], [98, 182, 'T-ON'], [182, 354, '13', null, null, true]]],
  [794, 832, [[13, 98, 'Hide'], [98, 182, 'Gann'], [182, 267, '&lt;&lt;'], [267, 354, '&gt;&gt;']]]
];
btnRows.forEach(([y1, y2, btns]) => {
  btns.forEach(([x1, x2, t, bg, fg, plain]) => {
    const css = {};
    if (bg) css.background = bg;
    if (fg) css.color = fg;
    if (plain) { css.fontSize = '29px'; }
    box(x1 + 1, y1 + 1, x2 - 1, y2 - 1, plain ? t : n(t), css, 'cell nar btn');
  });
});

// sheet tabs
const tabs = [[67, 311, 'Volume, Stochastic(8(3),5)', true], [303, 398, 'RSI(14,C)'], [392, 556, 'MACD(12,26,9,C)'], [550, 708, 'Volume with MA']];
let svg = '<svg width="1740" height="36" xmlns="http://www.w3.org/2000/svg" style="font-family:\'Liberation Sans\', Arial, sans-serif">' +
  '<rect x="13" y="0" width="1719" height="35" fill="#d4d0c8"/>' +
  '<rect x="13" y="0" width="1719" height="3" fill="#202020"/>' +
  '<rect x="14" y="5" width="24" height="28" fill="#d4d0c8" stroke="#707070"/><polygon points="21,19 30,12 30,26" fill="#000"/>' +
  '<rect x="40" y="5" width="24" height="28" fill="#d4d0c8" stroke="#707070"/><polygon points="57,19 48,12 48,26" fill="#000"/>';
tabs.slice().reverse().forEach(([a, b, t, active]) => {
  svg += '<polygon points="' + a + ',2 ' + b + ',2 ' + (b - 8) + ',34 ' + (a + 8) + ',34" fill="' + (active ? '#fff' : '#d4d0c8') +
         '" stroke="#000" stroke-width="1.5"/>' +
         '<text transform="translate(' + ((a + b) / 2) + ',26) scale(' + NARROW_X + ',1)" font-size="' + (active ? 22.5 : 21.5) +
         '" text-anchor="middle" fill="#000">' + t + '</text>';
});
svg += '</svg>';
box(0, 1093, 1740, 1129, svg, {}, 'abs');

// low level line is drawn above the panel, as in the source
const lowY = Math.round(mainChart.scales.y.getPixelForValue(lowLevel)) - 1;
box(13, lowY, 1732, lowY + 2, '', {background: '#ff0000'}, 'abs');
</script>
</body>
</html>
